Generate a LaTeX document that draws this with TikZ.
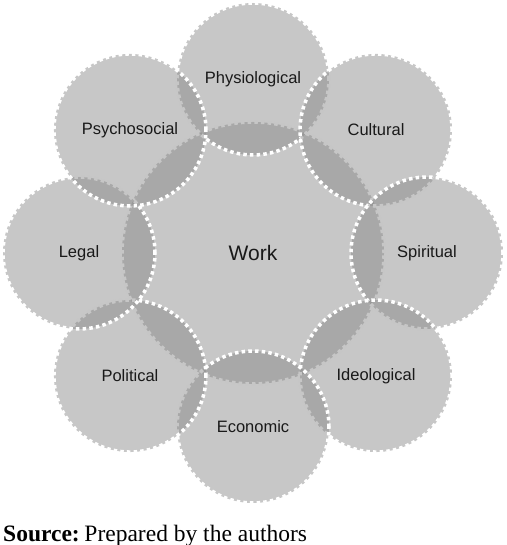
\documentclass[tikz,border=0pt]{standalone}
\usepackage{fontspec}
\setmainfont{Liberation Serif}
\setsansfont{Liberation Sans}
\usepackage{xcolor}
\definecolor{ringgray}{gray}{0.53}
\usetikzlibrary{positioning}

\begin{document}
\begin{tikzpicture}[
    x=1pt, y=1pt,
    hubcircle/.style={circle, fill=ringgray, fill opacity=0.47, text opacity=1,
                      draw=white, line width=3.5pt, dash pattern=on 3.5pt off 3.2pt,
                      inner sep=0pt, minimum size=262pt, text=black!90,
                      font=\sffamily\fontsize{21}{24}\selectfont},
    ringcircle/.style={hubcircle, minimum size=152pt,
                       font=\sffamily\fontsize{16.5}{19}\selectfont},
    srclbl/.style={anchor=base west, inner sep=0pt, text=black,
                   font=\fontsize{23.5}{26}\selectfont}
  ]
    \useasboundingbox (0,0) rectangle (506,545);

    % --- Hub (Work) ---
    \node[hubcircle] (work) at (253,292) {Work};

    % --- Ring of dimensions, clockwise from the top ---
    \foreach \name/\ang/\lbl in {physio/90/Physiological, cultural/45/Cultural,
                                 spiritual/0/Spiritual, ideological/-45/Ideological,
                                 economic/-90/Economic, political/-135/Political,
                                 legal/180/Legal, psychosocial/135/Psychosocial}
      \node[ringcircle] (\name) at ([shift={(\ang:174)}]work.center) {\lbl};

    % --- Source line ---
    \node[srclbl] (source) at (3,4) {\textbf{Source:}\hspace{0.2em}Prepared by the authors};
  \end{tikzpicture}
\end{document}
